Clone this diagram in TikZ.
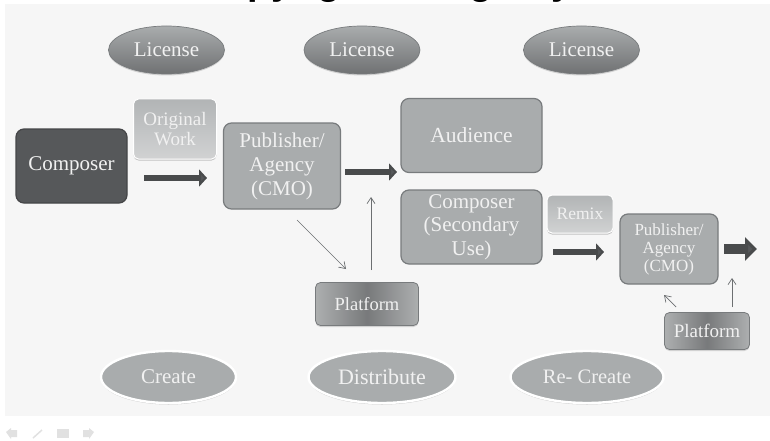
\documentclass[tikz,border=0pt]{standalone}
\usepackage{fontspec}
\setmainfont{Liberation Serif}
\newfontfamily\titlefont{Liberation Sans}
\usetikzlibrary{shapes.geometric,arrows.meta,shadows}
\definecolor{boxg}{HTML}{A9ACAD}
\definecolor{edgeg}{HTML}{787B7D}
\definecolor{darkg}{HTML}{56585A}
\definecolor{midg}{HTML}{8A8D8E}
\definecolor{pale}{HTML}{F2F2F2}
\definecolor{txt}{HTML}{F1F1F1}
\tikzset{
  x=1pt,y=-1pt,
  lbl/.style={text=txt,align=center,font=\fontsize{21}{25}\selectfont,inner sep=0pt},
  txtdown/.style={execute at begin node={\vspace*{#1}}},
  rbox/.style={lbl,rectangle,rounded corners=8pt,draw=edgeg,line width=1.2pt,fill=boxg},
  darkbox/.style={rbox,fill=darkg,draw=darkg!80!black},
  glossy/.style={rectangle,rounded corners=5pt,inner sep=0pt,lbl,draw=white,line width=1pt,top color=boxg!90!white,bottom color=pale!55!boxg,drop shadow={shadow xshift=0pt,shadow yshift=-1.5pt,opacity=.45}},
  platbox/.style={lbl,rectangle,rounded corners=5pt,draw=edgeg,line width=.8pt,left color=midg!70!white,right color=midg!70!white,middle color=darkg!80!white,drop shadow={shadow xshift=0pt,shadow yshift=-1.5pt,opacity=.3}},
  licell/.style={lbl,ellipse,minimum width=116pt,minimum height=48pt,draw=edgeg,line width=.7pt,top color=boxg,bottom color=darkg!85!white,drop shadow={shadow xshift=0pt,shadow yshift=-1.5pt,opacity=.3}},
  phase/.style={lbl,ellipse,draw=white,line width=2.4pt,fill=boxg,drop shadow={shadow xshift=0pt,shadow yshift=-1.5pt,opacity=.4}},
  blockarrow/.style={draw=darkg!85!black,line width=6.5pt,-{Triangle[length=8pt,width=17pt,fill=darkg]}},
  bigarrow/.style={draw=darkg!85!black,line width=10pt,-{Triangle[length=12pt,width=23pt,fill=darkg]}},
  thinarrow/.style={draw=edgeg!90!black,line width=.7pt,-{Straight Barb[length=6pt,width=8pt]}},
}
\begin{document}
\begin{tikzpicture}
\useasboundingbox (0,0) rectangle (770,441);
\fill[white] (0,0) rectangle (770,441);
\fill[pale!70!white] (5,4) rectangle (770,416);
\node[text=black,font=\titlefont\bfseries\fontsize{38}{38}\selectfont,anchor=base,inner sep=0pt] (title) at (385,-5) {Copyright\hspace{44pt}Registry};
% licence ellipses
\node[licell] (l1) at (166.5,50) {License};
\node[licell] (l2) at (362,50) {License};
\node[licell] (l3) at (581.5,50) {License};
% main boxes
\node[darkbox,minimum width=111pt,minimum height=74pt,txtdown=6pt] (composer) at (71.5,166) {Composer};
\node[glossy,minimum width=83pt,minimum height=60pt,font=\fontsize{19}{20}\selectfont,txtdown=2pt] (orig) at (175,129) {Original\\Work};
\node[rbox,minimum width=117pt,minimum height=86pt,font=\fontsize{21}{24}\selectfont,txtdown=5pt] (pub1) at (282,166) {Publisher/\\Agency\\(CMO)};
\node[rbox,minimum width=141pt,minimum height=74pt,font=\fontsize{21.5}{25}\selectfont] (aud) at (471.5,135.5) {Audience};
\node[rbox,minimum width=141pt,minimum height=74pt,font=\fontsize{21}{23.5}\selectfont,txtdown=6pt] (comp2) at (471.5,227) {Composer\\(Secondary\\Use)};
\node[glossy,minimum width=66pt,minimum height=38pt,font=\fontsize{17.5}{21}\selectfont] (remix) at (580,214) {Remix};
\node[rbox,minimum width=98pt,minimum height=70pt,font=\fontsize{17}{18}\selectfont,txtdown=4pt] (pub2) at (669,249) {Publisher/\\Agency\\(CMO)};
\node[platbox,minimum width=103pt,minimum height=43pt,font=\fontsize{18.5}{22}\selectfont] (plat1) at (367,304) {Platform};
\node[platbox,minimum width=85pt,minimum height=37pt,font=\fontsize{19}{22}\selectfont] (plat2) at (707,331) {Platform};
% phases
\node[phase,minimum width=135pt,minimum height=52pt] (create) at (168.5,377) {Create};
\node[phase,minimum width=147pt,minimum height=52pt,font=\fontsize{22}{25}\selectfont] (dist) at (382,377) {Distribute};
\node[phase,minimum width=153pt,minimum height=52pt,font=\fontsize{20.5}{25}\selectfont] (recreate) at (587,377) {Re- Create};
% named free ends
\coordinate (a1s) at (144,178); \coordinate (a1e) at (207,178);
\coordinate (a2s) at (345,172); \coordinate (a2e) at (397,172);
\coordinate (a3s) at (553,252); \coordinate (a3e) at (604,252);
\coordinate (a4s) at (724,249); \coordinate (a4e) at (757,249);
\coordinate (t1s) at (297,220); \coordinate (t1e) at (346,269);
\coordinate (t2s) at (371,270); \coordinate (t2e) at (371,197);
\coordinate (t3s) at (676,307); \coordinate (t3e) at (664,295);
\coordinate (t4s) at (732,307); \coordinate (t4e) at (732,278);
% connectors
\draw[blockarrow] (a1s) -- (a1e);
\draw[blockarrow] (a2s) -- (a2e);
\draw[blockarrow] (a3s) -- (a3e);
\draw[bigarrow] (a4s) -- (a4e);
\draw[thinarrow] (t1s) -- (t1e);
\draw[thinarrow] (t2s) -- (t2e);
\draw[thinarrow] (t3s) -- (t3e);
\draw[thinarrow] (t4s) -- (t4e);
% nav icons
\fill[pale!85!gray] (6,432) -- (11,428) -- (11,430) -- (17,430) -- (17,437) -- (11,437) -- (11,439) -- cycle;
\draw[pale!85!gray,line width=1.5pt] (33,438) -- (42,430);
\fill[pale!85!gray] (57,429) rectangle (69,438);
\fill[pale!85!gray] (94,432) -- (89,428) -- (89,430) -- (83,430) -- (83,437) -- (89,437) -- (89,439) -- cycle;
\end{tikzpicture}
\end{document}
